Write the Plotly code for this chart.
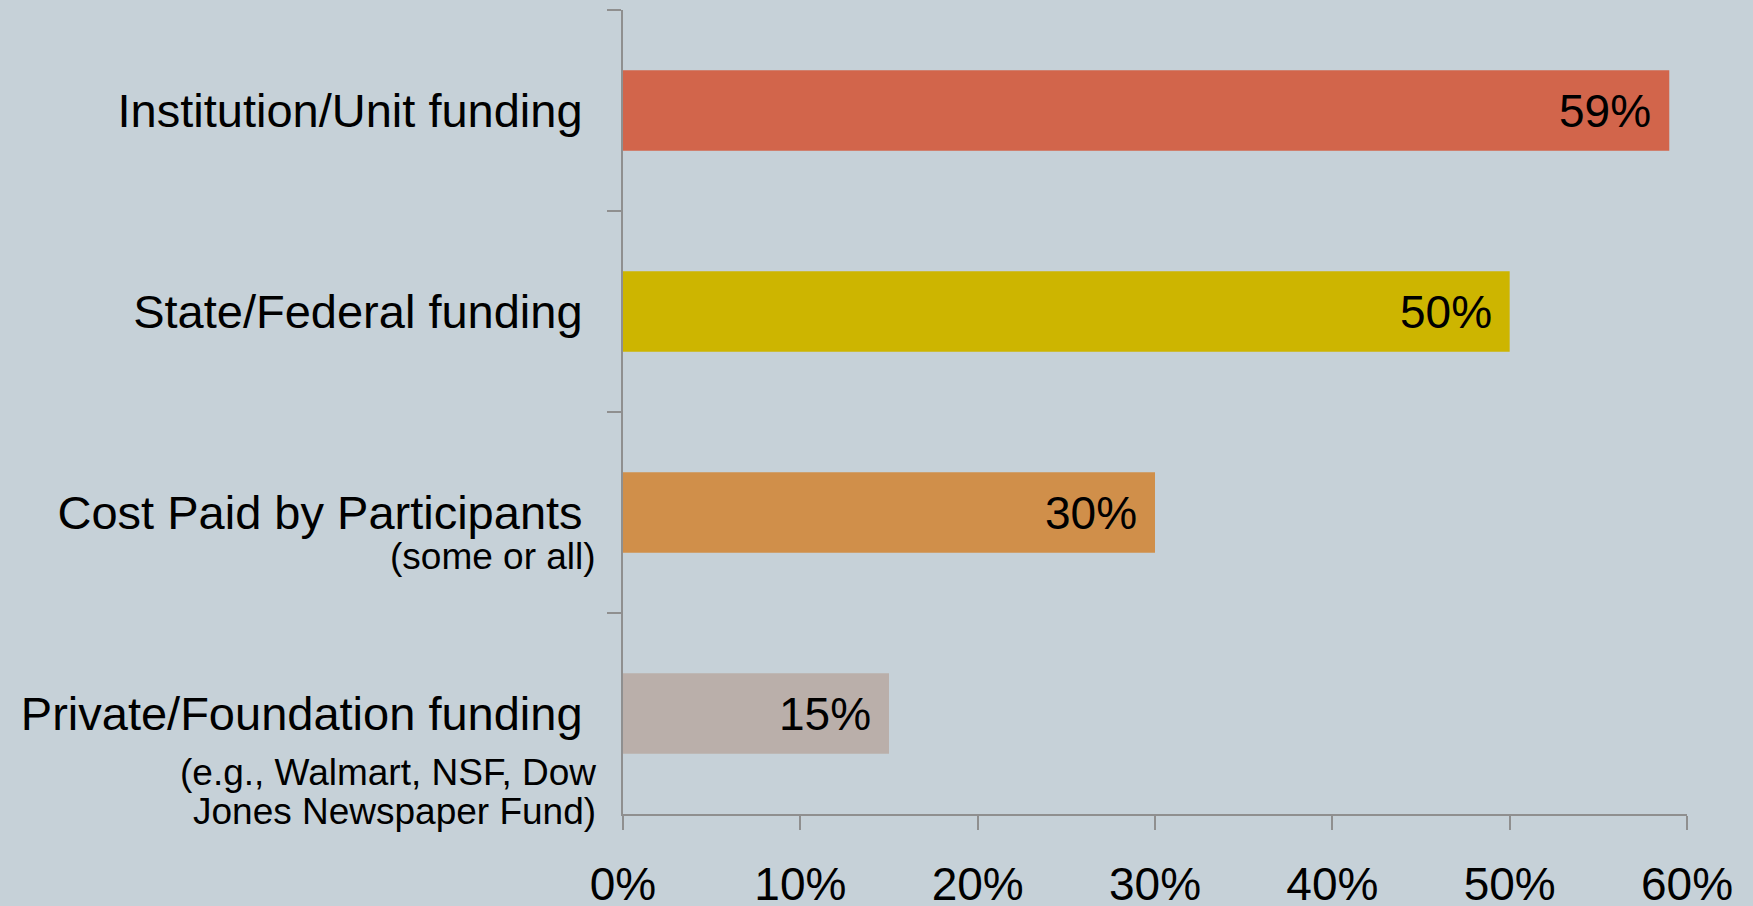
import plotly.graph_objects as go

categories = ["Institution/Unit funding", "State/Federal funding",
              "Cost Paid by Participants", "Private/Foundation funding"]
values = [59, 50, 30, 15]
subtitles = [[], [], ["(some or all)"], ["(e.g., Walmart, NSF, Dow", "Jones Newspaper Fund)"]]
colors = ["#D2654B", "#CDB500", "#D08F4A", "#BAAFAA"]
x_ticks = [0, 10, 20, 30, 40, 50, 60]
x_tick_labels = ["0%", "10%", "20%", "30%", "40%", "50%", "60%"]

BG = "#C6D1D8"
AXIS = "#8F8F8F"
SANS = "Liberation Sans, Arial, Helvetica, sans-serif"

fig = go.Figure()
fig.add_trace(go.Bar(
    x=values, y=categories, orientation="h",
    marker=dict(color=colors, line=dict(width=0)),
    hoverinfo="skip",
))

annotations = []
for cat, v in zip(categories, values):
    annotations.append(dict(
        x=v, y=cat, xref="x", yref="y", text=f"{v}%", showarrow=False,
        xanchor="right", yanchor="middle", xshift=-16,
        font=dict(family=SANS, size=46, color="#000000"),
    ))
sub_shifts = [[], [], [-44], [-59, -98]]
for cat, lines, shifts in zip(categories, subtitles, sub_shifts):
    for line, ys in zip(lines, shifts):
        annotations.append(dict(
            x=0, y=cat, xref="paper", yref="y", text=line, showarrow=False,
            xanchor="right", yanchor="middle", xshift=-25, yshift=ys,
            font=dict(family=SANS, size=37, color="#000000"),
        ))

fig.update_layout(
    width=1753, height=906,
    margin=dict(l=623, r=66, t=10, b=92),
    paper_bgcolor=BG, plot_bgcolor=BG,
    bargap=0.6, showlegend=False,
    annotations=annotations,
    xaxis=dict(
        range=[0, 60], tickvals=x_ticks, ticktext=x_tick_labels,
        showgrid=False, zeroline=False, automargin=False,
        showline=True, linecolor=AXIS, linewidth=2,
        ticks="outside", ticklen=14, tickwidth=2, tickcolor=AXIS,
        tickfont=dict(family=SANS, size=46, color="#000000"),
        ticklabelstandoff=15,
    ),
    yaxis=dict(
        type="category", autorange="reversed", automargin=False,
        showgrid=False, zeroline=False,
        showline=True, linecolor=AXIS, linewidth=2,
        ticks="outside", ticklen=14, tickwidth=2, tickcolor=AXIS,
        tickson="boundaries",
        tickfont=dict(family=SANS, size=47, color="#000000"),
        ticklabelstandoff=29,
    ),
)

fig.write_html("out.html", config={"displayModeBar": False},
               post_script="document.body.style.margin='0';")
